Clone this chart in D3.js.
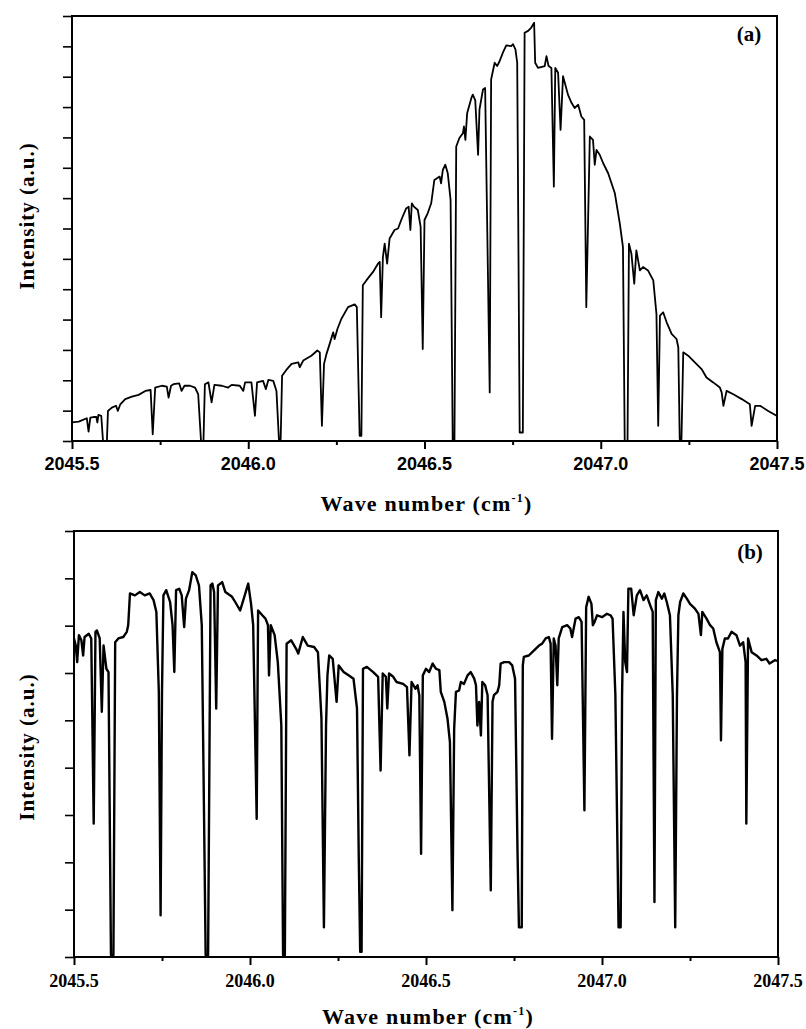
<!DOCTYPE html>
<html>
<head>
<meta charset="utf-8">
<script src="https://cdn.jsdelivr.net/npm/d3@7"></script>
<style>
  body { margin: 0; background: #fff; }
  svg { display: block; }
</style>
</head>
<body>
<div class="canvas"></div>
<script>
// panel (a) spectrum (wave number, intensity a.u.)
const waveA = [2045.500,2045.519,2045.542,2045.547,2045.552,2045.561,2045.569,2045.572,2045.575,2045.583,2045.588,2045.599,2045.602,2045.613,2045.625,2045.630,2045.637,2045.651,2045.670,2045.689,2045.708,2045.723,2045.729,2045.736,2045.755,2045.769,2045.774,2045.781,2045.788,2045.804,2045.811,2045.819,2045.835,2045.849,2045.858,2045.866,2045.873,2045.877,2045.887,2045.896,2045.904,2045.925,2045.943,2045.953,2045.976,2045.986,2045.991,2046.009,2046.019,2046.025,2046.042,2046.050,2046.057,2046.071,2046.080,2046.087,2046.092,2046.096,2046.108,2046.123,2046.142,2046.146,2046.156,2046.179,2046.196,2046.203,2046.209,2046.215,2046.222,2046.231,2046.241,2046.245,2046.253,2046.264,2046.283,2046.302,2046.308,2046.316,2046.321,2046.325,2046.335,2046.354,2046.368,2046.373,2046.377,2046.382,2046.387,2046.394,2046.401,2046.415,2046.425,2046.434,2046.448,2046.455,2046.460,2046.464,2046.470,2046.481,2046.489,2046.495,2046.500,2046.509,2046.519,2046.528,2046.543,2046.547,2046.552,2046.559,2046.566,2046.574,2046.580,2046.585,2046.590,2046.599,2046.609,2046.612,2046.616,2046.621,2046.633,2046.637,2046.644,2046.652,2046.656,2046.666,2046.672,2046.685,2046.689,2046.699,2046.706,2046.713,2046.723,2046.732,2046.746,2046.751,2046.758,2046.763,2046.770,2046.779,2046.784,2046.794,2046.803,2046.811,2046.814,2046.822,2046.841,2046.846,2046.852,2046.860,2046.867,2046.871,2046.879,2046.886,2046.893,2046.898,2046.907,2046.917,2046.926,2046.936,2046.945,2046.953,2046.959,2046.969,2046.978,2046.983,2046.988,2046.997,2047.007,2047.021,2047.040,2047.054,2047.063,2047.068,2047.076,2047.080,2047.087,2047.095,2047.101,2047.111,2047.120,2047.134,2047.149,2047.158,2047.163,2047.168,2047.177,2047.187,2047.201,2047.215,2047.220,2047.224,2047.229,2047.234,2047.248,2047.267,2047.286,2047.300,2047.319,2047.338,2047.343,2047.348,2047.357,2047.376,2047.400,2047.423,2047.428,2047.438,2047.452,2047.475,2047.499];
const intensityA = [0.61,0.64,0.75,0.31,0.77,0.79,0.79,0.61,0.86,0.83,0.0,0.0,0.99,1.10,1.16,0.99,1.21,1.38,1.46,1.52,1.65,1.68,0.22,1.76,1.82,1.79,1.43,1.82,1.87,1.90,1.65,1.82,1.82,1.76,1.54,0.0,0.0,1.87,1.93,1.27,1.85,1.82,1.76,1.85,1.82,1.65,1.93,1.93,0.83,1.93,1.98,1.71,2.01,1.98,1.65,0.06,0.06,2.15,2.34,2.54,2.59,2.43,2.65,2.81,2.98,2.92,0.50,2.54,2.87,3.20,3.58,3.36,3.69,4.02,4.41,4.50,4.41,0.17,0.17,5.13,5.29,5.57,5.84,5.90,4.08,6.06,6.50,5.84,6.67,6.95,7.00,7.28,7.66,7.72,6.95,7.83,7.72,7.61,7.06,3.03,7.28,7.50,7.83,8.60,8.71,8.49,8.93,9.10,8.82,7.94,0.0,0.0,9.70,9.98,10.14,10.36,9.92,10.80,11.30,11.41,11.22,9.43,10.92,11.58,11.63,1.60,11.91,12.46,12.35,12.51,12.81,13.03,13.01,13.07,12.90,12.46,0.28,0.28,13.45,13.51,13.62,13.78,12.46,12.29,12.35,12.68,12.35,12.29,8.38,12.29,12.13,10.25,12.02,11.80,11.41,11.14,10.97,11.08,10.69,10.58,4.41,10.03,9.92,9.10,9.59,9.43,9.15,8.82,8.16,7.17,6.39,0.0,0.0,6.50,6.17,5.18,6.28,5.62,5.73,5.62,5.29,4.19,0.50,4.13,4.24,3.91,3.53,3.36,3.09,0.06,0.06,2.92,2.81,2.59,2.37,2.09,1.93,1.76,1.60,1.16,1.65,1.54,1.38,1.21,0.50,1.16,1.16,0.99,0.83];

// panel (b) spectrum
const waveB = [2045.500,2045.505,2045.509,2045.514,2045.521,2045.526,2045.530,2045.542,2045.549,2045.556,2045.561,2045.565,2045.573,2045.579,2045.584,2045.592,2045.598,2045.605,2045.612,2045.617,2045.626,2045.640,2045.650,2045.654,2045.659,2045.673,2045.687,2045.701,2045.715,2045.726,2045.734,2045.741,2045.746,2045.750,2045.754,2045.762,2045.773,2045.780,2045.785,2045.790,2045.799,2045.806,2045.813,2045.818,2045.827,2045.836,2045.846,2045.855,2045.863,2045.869,2045.874,2045.881,2045.888,2045.893,2045.898,2045.904,2045.909,2045.921,2045.930,2045.949,2045.958,2045.972,2045.981,2045.995,2046.003,2046.009,2046.019,2046.023,2046.035,2046.044,2046.051,2046.054,2046.059,2046.070,2046.079,2046.089,2046.094,2046.099,2046.104,2046.117,2046.131,2046.137,2046.150,2046.164,2046.182,2046.193,2046.203,2046.210,2046.216,2046.220,2046.225,2046.235,2046.246,2046.252,2046.266,2046.280,2046.294,2046.304,2046.309,2046.313,2046.317,2046.321,2046.332,2046.350,2046.364,2046.371,2046.377,2046.386,2046.390,2046.395,2046.407,2046.416,2046.435,2046.446,2046.453,2046.459,2046.470,2046.476,2046.481,2046.486,2046.491,2046.500,2046.509,2046.519,2046.528,2046.538,2046.542,2046.552,2046.561,2046.568,2046.575,2046.580,2046.585,2046.594,2046.599,2046.608,2046.618,2046.627,2046.637,2046.642,2046.646,2046.651,2046.656,2046.660,2046.668,2046.675,2046.684,2046.689,2046.693,2046.703,2046.708,2046.712,2046.722,2046.736,2046.745,2046.753,2046.760,2046.764,2046.772,2046.775,2046.778,2046.792,2046.807,2046.821,2046.830,2046.840,2046.849,2046.854,2046.858,2046.863,2046.868,2046.873,2046.877,2046.887,2046.901,2046.910,2046.915,2046.925,2046.934,2046.942,2046.950,2046.955,2046.962,2046.970,2046.974,2046.979,2046.986,2047.000,2047.014,2047.024,2047.030,2047.038,2047.047,2047.053,2047.057,2047.061,2047.066,2047.071,2047.075,2047.083,2047.090,2047.099,2047.108,2047.118,2047.127,2047.137,2047.144,2047.149,2047.153,2047.160,2047.170,2047.177,2047.184,2047.193,2047.201,2047.208,2047.213,2047.217,2047.222,2047.231,2047.241,2047.250,2047.264,2047.274,2047.281,2047.285,2047.297,2047.307,2047.316,2047.325,2047.335,2047.338,2047.342,2047.349,2047.358,2047.368,2047.382,2047.392,2047.401,2047.408,2047.410,2047.415,2047.425,2047.439,2047.453,2047.467,2047.476,2047.491,2047.500];
const intensityB = [6.73,6.58,6.23,6.80,6.69,6.37,6.76,6.83,6.73,2.82,6.87,6.90,6.73,5.18,6.58,6.09,6.02,0.04,0.04,6.65,6.73,6.76,6.87,7.01,7.68,7.64,7.71,7.64,7.68,7.54,7.29,5.60,0.88,5.60,7.64,7.75,7.50,7.01,6.02,7.75,7.78,7.64,6.97,7.57,7.75,8.13,8.06,7.85,7.01,3.27,0.04,0.04,7.85,7.89,7.71,5.25,7.85,7.92,7.71,7.61,7.50,7.32,7.54,7.89,7.46,7.01,2.92,7.32,7.22,7.15,7.01,5.95,7.01,6.80,6.23,4.89,0.04,0.04,6.62,6.69,6.51,6.41,6.76,6.58,6.55,6.44,5.04,0.63,4.89,5.95,6.37,6.30,5.39,6.16,6.02,5.95,5.88,5.25,2.08,0.11,0.11,6.09,6.13,6.02,5.92,3.94,5.99,5.92,5.25,5.99,5.92,5.81,5.77,5.70,4.26,5.81,5.67,5.74,5.53,2.18,5.95,6.09,6.02,6.20,6.09,6.06,5.60,5.39,5.04,4.54,0.99,4.82,5.60,5.63,5.81,5.77,5.95,6.02,5.88,5.74,4.89,5.39,4.68,5.81,5.74,5.53,1.41,5.39,5.53,5.60,5.74,6.20,6.23,6.23,6.16,5.88,2.22,0.63,0.63,6.16,6.34,6.37,6.48,6.58,6.62,6.73,6.76,6.62,4.61,6.73,6.58,5.74,6.73,6.97,7.01,6.94,6.76,7.15,7.18,7.08,3.10,7.39,7.61,7.46,7.01,7.08,7.22,7.18,7.25,7.22,7.15,5.53,0.63,0.63,5.53,7.29,6.23,6.02,7.78,7.78,7.22,7.64,7.75,7.54,7.64,7.43,7.29,1.16,7.54,7.71,7.57,7.68,7.50,7.22,5.53,0.63,5.53,7.22,7.50,7.68,7.57,7.46,7.36,7.25,6.80,7.29,7.15,7.01,6.94,6.65,6.44,4.58,6.51,6.73,6.73,6.87,6.80,6.58,6.65,6.23,2.82,6.73,6.44,6.37,6.27,6.30,6.20,6.27,6.25];

const xMajor = [2045.5, 2046.0, 2046.5, 2047.0, 2047.5];
const xMinor = [2045.75, 2046.25, 2046.75, 2047.25];
const yTicksA = d3.range(0, 15);   // 14 divisions, unlabelled
const yTicksB = d3.range(0, 10);   // 9 divisions, unlabelled

const W = 806, H = 1029;
const serif = "'Liberation Serif', 'Times New Roman', serif";
const sans = "'Liberation Sans', Arial, sans-serif";

const svg = d3.select('.canvas')
    .append('svg')
    .attr('width', W)
    .attr('height', H);

const panels = [
    { tag: '(a)', wave: waveA, inten: intensityA, yMax: 14, yTicks: yTicksA,
      left: 72, right: 777, top: 16, bottom: 441, lw: 1.8,
      tickFont: sans, tickSize: 18, tickY: 470, titleY: 511, ylabY: 216, tagY: 41 },
    { tag: '(b)', wave: waveB, inten: intensityB, yMax: 9, yTicks: yTicksB,
      left: 74, right: 778, top: 531, bottom: 957, lw: 2.4,
      tickFont: serif, tickSize: 18, tickY: 987, titleY: 1024, ylabY: 747, tagY: 559 }
];

panels.forEach(p => {
    const x = d3.scaleLinear().domain([2045.5, 2047.5]).range([p.left, p.right]);
    const y = d3.scaleLinear().domain([0, p.yMax]).range([p.bottom, p.top]);
    const g = svg.append('g');

    // major + minor ticks on the bottom
    g.append('g').attr('transform', `translate(0,${p.bottom})`)
        .call(d3.axisBottom(x).tickValues(xMajor).tickSize(8).tickFormat(''))
        .call(a => a.select('.domain').remove())
        .selectAll('line').attr('stroke', '#000').attr('stroke-width', 2);
    g.append('g').attr('transform', `translate(0,${p.bottom})`)
        .call(d3.axisBottom(x).tickValues(xMinor).tickSize(4).tickFormat(''))
        .call(a => a.select('.domain').remove())
        .selectAll('line').attr('stroke', '#000').attr('stroke-width', 2);

    // tick labels
    g.selectAll('text.xt')
        .data(xMajor)
        .enter()
        .append('text')
        .attr('class', 'xt')
        .attr('x', d => x(d))
        .attr('y', p.tickY)
        .attr('text-anchor', 'middle')
        .style('font-family', p.tickFont)
        .style('font-weight', 'bold')
        .style('font-size', p.tickSize + 'px')
        .text(d => d3.format('.1f')(d));

    // left ticks
    g.append('g').attr('transform', `translate(${p.left},0)`)
        .call(d3.axisLeft(y).tickValues(p.yTicks).tickSize(9).tickFormat(''))
        .call(a => a.select('.domain').remove())
        .selectAll('line').attr('stroke', '#000').attr('stroke-width', 1.6);

    // spectrum
    const pts = p.wave.map((w, i) => [w, p.inten[i]]);
    g.append('path')
        .datum(pts)
        .attr('fill', 'none')
        .attr('stroke', '#000')
        .attr('stroke-width', p.lw)
        .attr('stroke-linejoin', 'round')
        .attr('d', d3.line().x(d => x(d[0])).y(d => y(d[1])));

    // frame
    g.append('rect')
        .attr('x', p.left).attr('y', p.top)
        .attr('width', p.right - p.left).attr('height', p.bottom - p.top)
        .attr('fill', 'none').attr('stroke', '#000').attr('stroke-width', 2);

    // panel tag
    g.append('text')
        .attr('x', p.right - 28).attr('y', p.tagY)
        .attr('text-anchor', 'middle')
        .style('font-family', serif).style('font-weight', 'bold').style('font-size', '21px')
        .text(p.tag);

    // x title with superscript
    const xt = g.append('text')
        .attr('x', (p.left + p.right) / 2 + 2).attr('y', p.titleY)
        .attr('text-anchor', 'middle')
        .style('font-family', serif).style('font-weight', 'bold').style('font-size', '22px')
        .style('letter-spacing', '1.2px');
    xt.append('tspan').text('Wave number (cm');
    xt.append('tspan').attr('dy', -9).style('font-size', '12px').text('-1');
    xt.append('tspan').attr('dy', 9).text(')');

    // y title
    g.append('text')
        .attr('transform', `translate(34,${p.ylabY}) rotate(-90)`)
        .attr('text-anchor', 'middle')
        .style('font-family', serif).style('font-weight', 'bold').style('font-size', '21px')
        .style('letter-spacing', '1px')
        .text('Intensity (a.u.)');
});
</script>
</body>
</html>
